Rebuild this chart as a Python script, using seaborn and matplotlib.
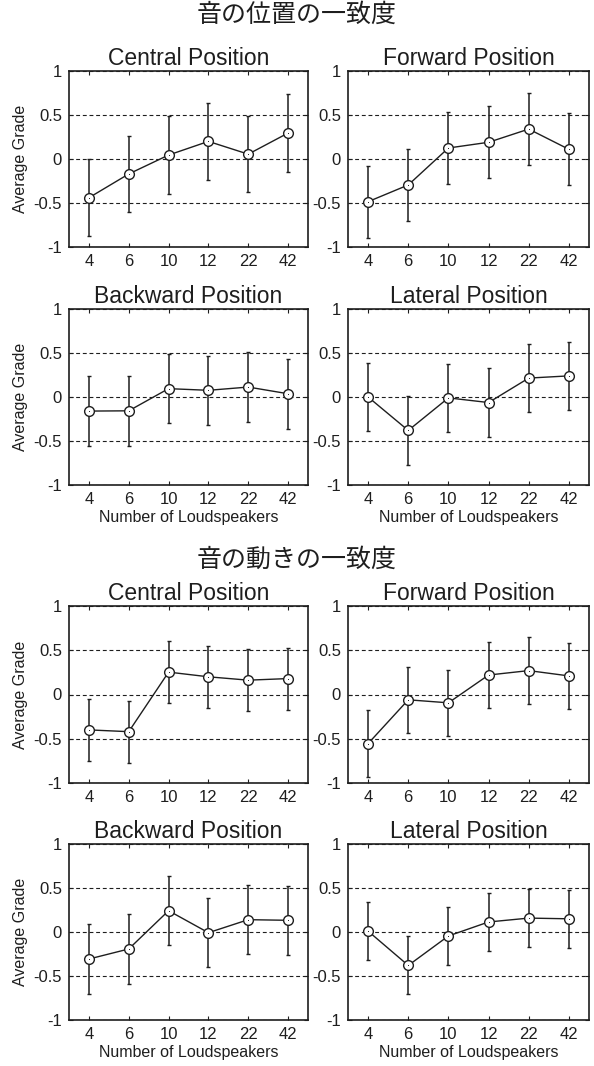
import matplotlib
matplotlib.use("Agg")
import pandas as pd
import seaborn as sns
from matplotlib import pyplot as plt

# number of loudspeakers (categorical axis)
speakers = ["4", "6", "10", "12", "22", "42"]

# 音の位置の一致度
pos_central_mean = [-0.44, -0.17, 0.045, 0.20, 0.055, 0.295]
pos_central_err = [0.44, 0.435, 0.44, 0.44, 0.435, 0.44]
pos_forward_mean = [-0.485, -0.295, 0.125, 0.19, 0.34, 0.11]
pos_forward_err = [0.41, 0.41, 0.41, 0.41, 0.41, 0.41]
pos_backward_mean = [-0.16, -0.157, 0.095, 0.076, 0.113, 0.037]
pos_backward_err = [0.395, 0.395, 0.395, 0.395, 0.395, 0.395]
pos_lateral_mean = [0.0, -0.38, -0.01, -0.063, 0.215, 0.24]
pos_lateral_err = [0.39, 0.39, 0.39, 0.39, 0.39, 0.39]

# 音の動きの一致度
mov_central_mean = [-0.40, -0.42, 0.253, 0.20, 0.162, 0.18]
mov_central_err = [0.35, 0.35, 0.35, 0.35, 0.35, 0.35]
mov_forward_mean = [-0.555, -0.06, -0.094, 0.22, 0.27, 0.21]
mov_forward_err = [0.375, 0.375, 0.375, 0.375, 0.375, 0.375]
mov_backward_mean = [-0.307, -0.193, 0.242, -0.008, 0.14, 0.133]
mov_backward_err = [0.395, 0.395, 0.395, 0.395, 0.395, 0.395]
mov_lateral_mean = [0.01, -0.38, -0.045, 0.114, 0.158, 0.15]
mov_lateral_err = [0.33, 0.33, 0.33, 0.33, 0.33, 0.33]

sns.set_theme(style="ticks")
plt.rcParams['font.family'] = ['Liberation Sans', 'Noto Sans CJK JP']
plt.rcParams['axes.unicode_minus'] = False

fig = plt.figure(figsize=(5.94, 10.66), dpi=100)
fig.patch.set_facecolor("white")

W, H = 594.0, 1066.0
cols = [(69, 308), (348, 589)]
rows = [(71, 247), (309, 485), (606, 783), (844, 1020)]

panels = [
    (pos_central_mean, pos_central_err, "Central Position"),
    (pos_forward_mean, pos_forward_err, "Forward Position"),
    (pos_backward_mean, pos_backward_err, "Backward Position"),
    (pos_lateral_mean, pos_lateral_err, "Lateral Position"),
    (mov_central_mean, mov_central_err, "Central Position"),
    (mov_forward_mean, mov_forward_err, "Forward Position"),
    (mov_backward_mean, mov_backward_err, "Backward Position"),
    (mov_lateral_mean, mov_lateral_err, "Lateral Position"),
]

ink = "#1e1e1e"

for i, (mean, err, title) in enumerate(panels):
    r, c = divmod(i, 2)
    x0, x1 = cols[c]
    top, bot = rows[r]
    ax = fig.add_axes([x0 / W, 1 - bot / H, (x1 - x0) / W, (bot - top) / H])

    df = pd.DataFrame({"n": speakers, "grade": mean})
    pos = range(len(speakers))
    ax.errorbar(pos, mean, yerr=err, fmt="none", ecolor=ink, elinewidth=1.1,
                capsize=1.5, capthick=1.0, zorder=2)
    sns.lineplot(data=df, x="n", y="grade", ax=ax, sort=False, color=ink, lw=1.0,
                 marker="o", markersize=7, markerfacecolor="white",
                 markeredgecolor=ink, markeredgewidth=1.0, zorder=3)
    # tiny centre dot inside each circle
    ax.plot(pos, mean, ls="none", marker="o", ms=0.7, mew=0, color=ink, zorder=4)

    ax.set_xlim(-0.5, 5.5)
    ax.set_ylim(-1, 1)
    ax.set_yticks([-1, -0.5, 0, 0.5, 1])
    ax.set_yticklabels(["-1", "-0.5", "0", "0.5", "1"])
    ax.set_xticks(list(pos))
    ax.set_xticklabels(speakers)
    ax.yaxis.grid(True, ls=(0, (3.5, 2.5)), color=ink, lw=0.8)
    ax.xaxis.grid(False)
    ax.tick_params(direction="in", length=3, width=0.8, top=True, right=True,
                   labelsize=12, pad=5, colors=ink)
    for sp in ax.spines.values():
        sp.set_visible(True)
        sp.set_color(ink)
        sp.set_linewidth(1.2)
    ax.set_title(title, fontsize=16.5, pad=4, color=ink)
    ax.set_ylabel("Average Grade" if c == 0 else "", fontsize=11.5, color=ink, labelpad=4)
    ax.set_xlabel("Number of Loudspeakers" if r in (1, 3) else "", fontsize=11.5,
                  color=ink, labelpad=2)

fig.text(0.5, 1 - 15 / H, "音の位置の一致度", ha="center", va="center",
         fontsize=18, color=ink, family=['Noto Sans CJK JP'])
fig.text(0.5, 1 - 560 / H, "音の動きの一致度", ha="center", va="center",
         fontsize=18, color=ink, family=['Noto Sans CJK JP'])

fig.savefig("out.png", dpi=100, facecolor="white")
